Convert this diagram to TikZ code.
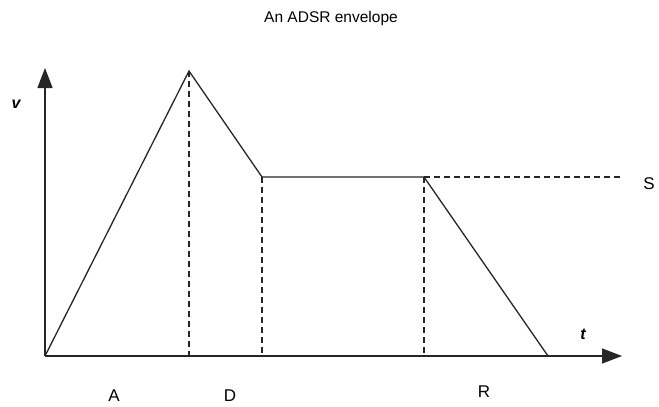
\documentclass[tikz,border=0pt]{standalone}
\usepackage{fontspec}
\setmainfont{Liberation Sans}
\usetikzlibrary{arrows.meta}
\begin{document}
\begin{tikzpicture}[x=1pt,y=-1pt,
  env/.style={line width=1.3pt,draw=black!85},
  guide/.style={line width=1.2pt,draw=black!85,dash pattern=on 6pt off 4pt},
  axis/.style={line width=1.3pt,draw=black!85,-{Triangle[length=20pt,width=15pt]}},
  ttl/.style={font=\fontsize{15.5}{18}\selectfont,inner sep=0pt},
  lbl/.style={font=\fontsize{17}{19}\selectfont,inner sep=0pt},
  var/.style={font=\fontsize{16}{18}\selectfont\itshape\bfseries,inner sep=0pt}]
\useasboundingbox (0,0) rectangle (659,407);
\coordinate (O) at (45,356);
\coordinate (Ytop) at (45,68);
\coordinate (Xend) at (622,356);
\coordinate (P) at (189,71);
\coordinate (Dend) at (262,177);
\coordinate (Send) at (424,177);
\coordinate (Rend) at (548,356);
\coordinate (Sguide) at (622,177);
\coordinate (Pb) at (189,356);
\coordinate (Db) at (262,356);
\coordinate (Sb) at (424,356);
% dashed guides
\draw[guide] (P) -- (Pb);
\draw[guide] (Dend) -- (Db);
\draw[guide] (Send) -- (Sb);
\draw[guide] (Send) -- (Sguide);
% envelope
\draw[env,line join=miter] (O) -- (P) -- (Dend) -- (Send) -- (Rend);
% axes
\draw[axis] (O) -- (Ytop);
\draw[axis] (O) -- (Xend);
% labels
\node[ttl] (title) at (331,18) {An ADSR envelope};
\node[var] (v) at (16,104) {v};
\node[var] (t) at (583,334) {t};
\node[lbl] (S) at (649,184) {S};
\node[lbl] (A) at (114,396) {A};
\node[lbl] (D) at (230,396) {D};
\node[lbl] (R) at (484,392) {R};
\end{tikzpicture}
\end{document}
